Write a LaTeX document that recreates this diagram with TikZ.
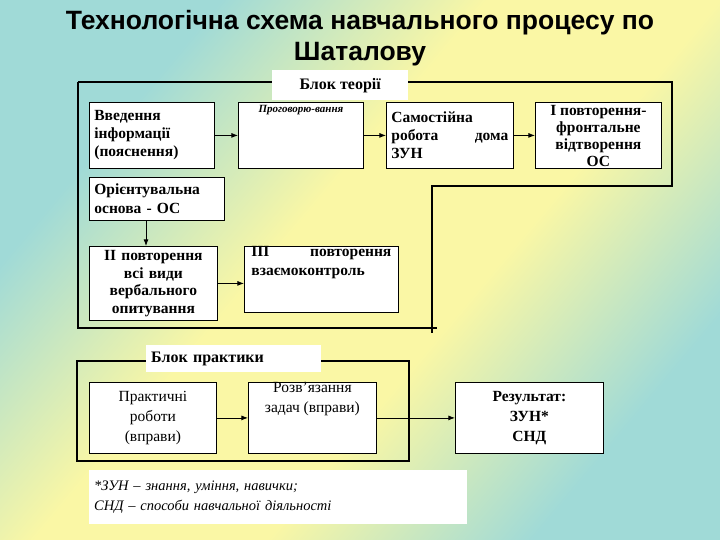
\documentclass[tikz,border=0pt]{standalone}
\usepackage{fontspec}
\setmainfont{Liberation Serif}
\newfontfamily\titlefont{Liberation Sans}
\usetikzlibrary{arrows.meta}
\tikzset{>=Latex}
\definecolor{bgteal}{RGB}{160,218,215}
\definecolor{bgyell}{RGB}{250,247,165}
\pgfdeclarehorizontalshading{bgshade}{100bp}{color(0bp)=(bgteal); color(28bp)=(bgteal);
  color(44bp)=(bgyell); color(58bp)=(bgyell); color(74bp)=(bgteal); color(100bp)=(bgteal)}
\tikzset{
  blk/.style={draw, fill=white, thick, anchor=north west, inner sep=4pt,
    font=\fontsize{15.5}{19}\selectfont\bfseries},
  txt/.style={anchor=north, inner sep=3pt, font=\fontsize{15.5}{19}\selectfont\bfseries},
  frame/.style={line width=2pt},
  flow/.style={->, thick},
}

\begin{document}
\begin{tikzpicture}[x=1pt,y=-1pt]
                % background
                \shade[shading=bgshade, shading angle=-40] (0,0) rectangle (720,540);
                \useasboundingbox (0,0) rectangle (720,540);

                % title
                \node[font=\titlefont\fontsize{26.5}{31}\selectfont\bfseries, align=center] (title) at (360,38)
                  {Технологічна схема навчального процесу по\\Шаталову};

                % theory block frame
                \draw[frame] (78,82) -- (672,82) -- (672,186) -- (432,186) -- (432,333);
                \draw[frame] (78,82) -- (78,328) -- (437,328);
                \node[fill=white, minimum width=136pt, minimum height=30pt, anchor=north west,
                  font=\fontsize{16}{18}\selectfont\bfseries] (tlabel) at (272,70) {Блок теорії};

                % theory boxes
                \node[blk, minimum width=125pt, minimum height=66pt, text width=115pt, align=left,
                  font=\fontsize{15.5}{18}\selectfont\bfseries] (vved) at (89,102) {Введення\\інформації\\(пояснення)};
                \node[blk, minimum width=125pt, minimum height=66pt] (prog) at (238,102) {};
                \node[txt, font=\fontsize{11}{13}\selectfont\bfseries\itshape] (progt) at (prog.north) {Проговорю-вання};
                \node[blk, minimum width=127pt, minimum height=66pt, text width=117pt, align=left,
                  font=\fontsize{15.5}{18}\selectfont\bfseries] (samo) at (386,102) {Самостійна\\робота\hfill дома\\ЗУН};
                \node[blk, minimum width=126pt, minimum height=66pt] (perv) at (535,102) {};
                \node[txt, align=center, font=\fontsize{15.5}{17}\selectfont\bfseries] (pervt) at (perv.north) {І повторення-\\фронтальне\\відтворення\\ОС};
                \node[blk, minimum width=135pt, minimum height=43pt, text width=125pt, align=left]
                  (orie) at (89,177) {Орієнтувальна\\основа - ОС};
                \node[blk, minimum width=127pt, minimum height=71pt, text width=120pt, align=center,
                  font=\fontsize{15.5}{17.5}\selectfont\bfseries] (druh) at (89,246) {ІІ повторення\\всі види\\вербального\\опитування};
                \node[blk, minimum width=154pt, minimum height=66pt] (tret) at (244,246) {};
                \node[txt, text width=140pt, align=left] (trett) at ([yshift=3pt]tret.north) {ІІІ\hfill повторення\\взаємоконтроль};

                \draw[flow] (vved) -- (prog);
                \draw[flow] (prog) -- (samo);
                \draw[flow] (samo) -- (perv);
                \draw[flow] (orie.south -| 146,0) -- (druh.north -| 146,0);
                \draw[flow] (druh) -- (tret.west |- druh);

                % practice block frame
                \draw[frame] (77,361) rectangle (409,461);
                \node[fill=white, minimum width=175pt, minimum height=27pt, anchor=north west,
                  font=\fontsize{16}{18}\selectfont\bfseries, align=left, text width=165pt] (plabel) at (146,345) {Блок практики};

                \node[blk, minimum width=127pt, minimum height=71pt, text width=118pt, align=center,
                  font=\fontsize{15.5}{20}\selectfont] (prak) at (89,382) {Практичні\\роботи\\(вправи)};
                \node[blk, minimum width=128pt, minimum height=71pt] (rozv) at (248,382) {};
                \node[txt, align=center, font=\fontsize{15.5}{20}\selectfont] (rozvt) at ([yshift=3pt]rozv.north) {Розв’язання\\задач (вправи)};
                \node[blk, minimum width=148pt, minimum height=71pt, text width=138pt, align=center,
                  font=\fontsize{15.5}{20}\selectfont\bfseries] (rezu) at (455,382) {Результат:\\ЗУН*\\СНД};

                \draw[flow] (prak) -- (prak.east -| rozv.west);
                \draw[flow] (rozv.east |- prak) -- (rezu.west |- prak);

                % footnote
                \node[fill=white, anchor=north west, minimum width=378pt, minimum height=54pt,
                  text width=368pt, align=left, font=\fontsize{14.5}{20}\selectfont\itshape] (note) at (89,470)
                  {*ЗУН -- знання, уміння, навички;\\СНД -- способи навчальної діяльності};
\end{tikzpicture}
\end{document}
